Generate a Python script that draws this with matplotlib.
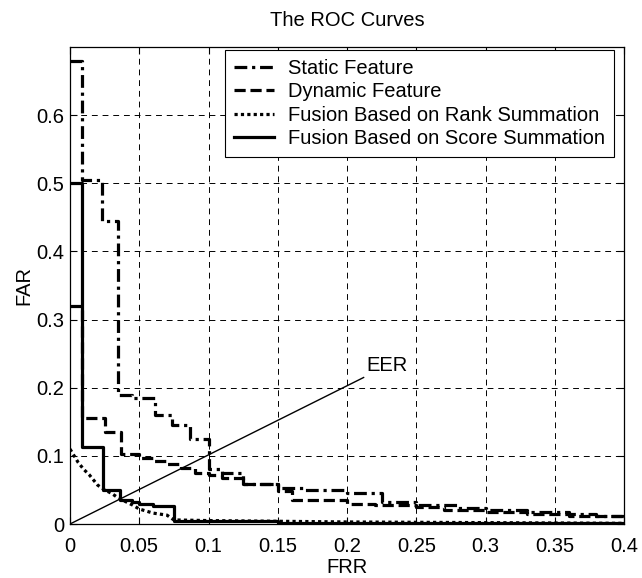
import matplotlib
matplotlib.use("Agg")
import matplotlib.pyplot as plt

plt.rcParams['font.family'] = ['Liberation Sans', 'DejaVu Sans']

# Static Feature (step curve: FRR thresholds, FAR level)
static_frr = [0, 0.009, 0.023, 0.035, 0.045, 0.0615, 0.074, 0.087, 0.1, 0.11, 0.125, 0.15,
              0.17, 0.2, 0.225, 0.25, 0.28, 0.3, 0.33, 0.36, 0.38, 0.4]
static_far = [0.68, 0.505, 0.445, 0.19, 0.185, 0.16, 0.145, 0.125, 0.08, 0.075, 0.058, 0.053,
              0.05, 0.046, 0.032, 0.028, 0.024, 0.021, 0.017, 0.014, 0.012, 0.01]

# Dynamic Feature
dyn_frr = [0, 0.009, 0.025, 0.037, 0.05, 0.06, 0.07, 0.08, 0.09, 0.1, 0.11, 0.125, 0.15,
           0.16, 0.2, 0.22, 0.25, 0.27, 0.3, 0.33, 0.36, 0.4]
dyn_far = [0.32, 0.155, 0.135, 0.102, 0.097, 0.093, 0.088, 0.082, 0.075, 0.072, 0.068, 0.058,
           0.048, 0.035, 0.03, 0.028, 0.025, 0.02, 0.018, 0.015, 0.012, 0.01]

# Fusion Based on Rank Summation
rank_frr = [0, 0.003, 0.006, 0.01, 0.014, 0.02, 0.025, 0.03, 0.035, 0.04, 0.045, 0.05, 0.06,
            0.07, 0.075, 0.1, 0.15, 0.2, 0.3, 0.4]
rank_far = [0.11, 0.1, 0.09, 0.08, 0.072, 0.057, 0.05, 0.045, 0.038, 0.033, 0.028, 0.022,
            0.016, 0.013, 0.006, 0.005, 0.004, 0.003, 0.002, 0.001]

# Fusion Based on Score Summation
score_frr = [0, 0.009, 0.024, 0.036, 0.045, 0.05, 0.06, 0.075, 0.15, 0.4]
score_far = [0.5, 0.113, 0.05, 0.035, 0.032, 0.03, 0.027, 0.004, 0.002, 0.001]

# EER line
eer_x = [0, 0.212]
eer_y = [0, 0.215]

labels = ['Static Feature', 'Dynamic Feature', 'Fusion Based on Rank Summation',
          'Fusion Based on Score Summation']
xticks = [0, 0.05, 0.1, 0.15, 0.2, 0.25, 0.3, 0.35, 0.4]
xticklabels = ['0', '0.05', '0.1', '0.15', '0.2', '0.25', '0.3', '0.35', '0.4']
yticks = [0, 0.1, 0.2, 0.3, 0.4, 0.5, 0.6]
yticklabels = ['0', '0.1', '0.2', '0.3', '0.4', '0.5', '0.6']

FS = 14.5
fig = plt.figure(figsize=(6.42, 5.78), dpi=100)
ax = fig.add_axes([70/642, 1-524/578, (624-70)/642, (524-47)/578])

lw = 2.3
ax.plot(static_frr, static_far, color='black', lw=lw, drawstyle='steps-post',
        linestyle=(0, (4, 1.5, 1, 1.5)), label=labels[0])
ax.plot(dyn_frr, dyn_far, color='black', lw=lw, drawstyle='steps-post',
        linestyle=(0, (3.5, 1.5)), label=labels[1])
ax.plot(rank_frr, rank_far, color='black', lw=lw, linestyle=(0, (1, 1)), label=labels[2])
ax.plot(score_frr, score_far, color='black', lw=lw, drawstyle='steps-post',
        linestyle='-', label=labels[3])
ax.plot(eer_x, eer_y, color='black', lw=1.0)
ax.text(0.214, 0.224, 'EER', fontsize=FS, ha='left', va='baseline')

ax.set_xlim(0, 0.4)
ax.set_ylim(0, 0.7)
ax.set_xticks(xticks)
ax.set_xticklabels(xticklabels)
ax.set_yticks(yticks)
ax.set_yticklabels(yticklabels)
ax.tick_params(direction='in', top=True, right=True, length=5, labelsize=FS, width=0.8)
ax.tick_params(axis='x', pad=9)
ax.tick_params(axis='y', pad=4)
ax.grid(True, color='black', linestyle=(0, (6, 5)), linewidth=0.7)
for s in ax.spines.values():
    s.set_linewidth(0.9)

ax.set_title('The ROC Curves', fontsize=FS, pad=15)
ax.set_xlabel('FRR', fontsize=FS, labelpad=2)
ax.set_ylabel('FAR', fontsize=FS, labelpad=2)

leg = ax.legend(loc='upper right', bbox_to_anchor=(614/642, 1-50/578),
                bbox_transform=fig.transFigure, borderaxespad=0, fontsize=FS,
                handlelength=2.0, handletextpad=0.7, labelspacing=0.22,
                borderpad=0.45, fancybox=False, framealpha=1, edgecolor='black')
leg.get_frame().set_linewidth(0.8)

fig.savefig('out.png', dpi=100)
